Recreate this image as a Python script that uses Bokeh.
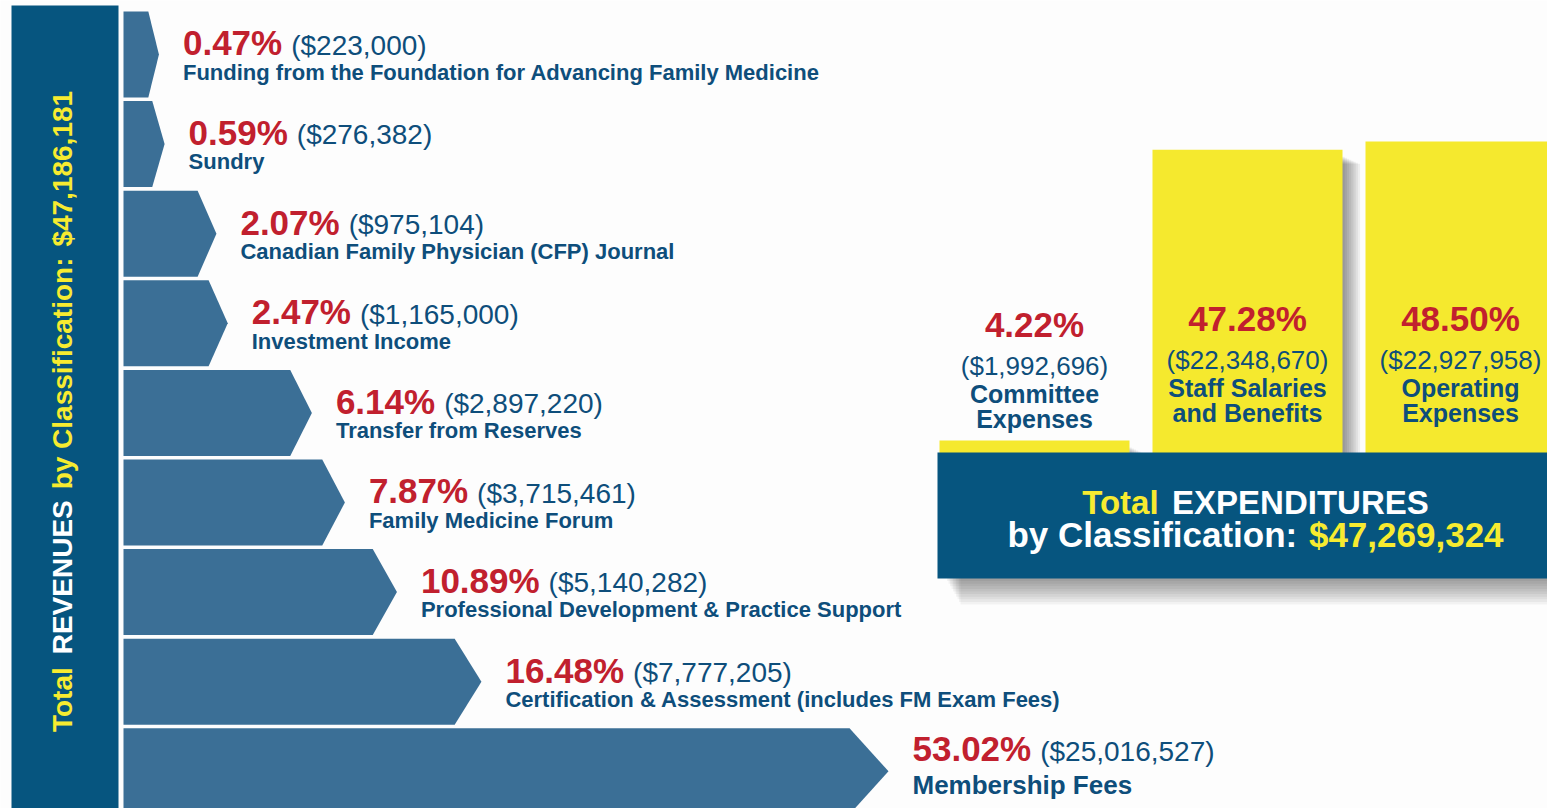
import numpy as np
from bokeh.plotting import figure
from bokeh.models import Range1d, ColumnDataSource
from bokeh.core.properties import value
from bokeh.embed import file_html
from bokeh.resources import INLINE

# ---------------- data ----------------
rev_labels = [
    "Funding from the Foundation for Advancing Family Medicine",
    "Sundry",
    "Canadian Family Physician (CFP) Journal",
    "Investment Income",
    "Transfer from Reserves",
    "Family Medicine Forum",
    "Professional Development & Practice Support",
    "Certification & Assessment (includes FM Exam Fees)",
    "Membership Fees",
]
rev_pct = [0.47, 0.59, 2.07, 2.47, 6.14, 7.87, 10.89, 16.48, 53.02]
rev_amount = [223000, 276382, 975104, 1165000, 2897220, 3715461, 5140282, 7777205, 25016527]
rev_total = 47186181

exp_line1 = ["Committee", "Staff Salaries", "Operating"]
exp_line2 = ["Expenses", "and Benefits", "Expenses"]
exp_pct = [4.22, 47.28, 48.50]
exp_amount = [1992696, 22348670, 22927958]
exp_total = 47269324

# ---------------- style ----------------
DARK = "#06557f"
ARROW = "#3b6f96"
RED = "#c1202e"
BLUE = "#0e4e7b"
YEL = "#f5e92e"
YEL_T = "#f7eb30"
BG = "#fdfdfd"
FONT = value("Liberation Sans")

# Liberation Sans Bold advance widths (1/1000 em)
AB = {" ": 278, "$": 556, "%": 889, "(": 333, ")": 333, ",": 278, ".": 278, ":": 333, "&": 722,
      "A": 722, "B": 722, "C": 722, "D": 722, "E": 667, "F": 611, "G": 778, "H": 722, "I": 278,
      "J": 556, "K": 722, "L": 611, "M": 833, "N": 722, "O": 778, "P": 667, "Q": 778, "R": 722,
      "S": 667, "T": 611, "U": 722, "V": 667, "W": 944, "X": 667, "Y": 667, "Z": 611,
      "a": 556, "b": 611, "c": 556, "d": 611, "e": 556, "f": 333, "g": 611, "h": 611, "i": 278,
      "j": 278, "k": 556, "l": 278, "m": 889, "n": 611, "o": 611, "p": 611, "q": 611, "r": 389,
      "s": 556, "t": 333, "u": 611, "v": 556, "w": 778, "x": 556, "y": 556, "z": 500}
for d in "0123456789":
    AB[d] = 556


def tw(s, size):
    return sum(AB.get(c, 556) for c in s) / 1000.0 * size


W, H = 1547, 808


def Y(sy):
    return H - sy


def BL(sy, size):
    """data y for a text whose baseline should sit at screen row sy."""
    return Y(sy - 0.33 * size)


p = figure(width=W, height=H, x_range=Range1d(0, W), y_range=Range1d(0, H),
           output_backend="svg", toolbar_location=None, min_border=0,
           x_axis_location=None, y_axis_location=None,
           background_fill_color=BG, border_fill_color=BG, outline_line_color=None)
p.grid.visible = False

# ---------------- revenues ----------------
p.quad(left=11, right=118, top=Y(5), bottom=Y(820), fill_color=DARK, line_color=None)

n = len(rev_pct)
POW = 0.65  # power scale for arrow length
tv = np.array(rev_pct) ** POW
X0, X1 = 123.0, 888.0
kx = (X1 - X0) / tv.max()
sx = -X0 / kx
p.extra_x_ranges = {"rev": Range1d(sx, sx + W / kx)}

ROW0, PITCH, RH = 11.0, 89.6, 86.0
xs, ys = [], []
mids = []
for i, t in enumerate(tv):
    top = ROW0 + i * PITCH
    bot = top + RH
    mid = top + RH / 2
    mids.append(mid)
    L = t * kx
    d = min(0.3 * L, 16 + 0.03 * L) / kx
    xs.append([0, t - d, t, t - d, 0])
    ys.append([Y(top), Y(top), Y(mid), Y(bot), Y(bot)])
p.patches(xs, ys, x_range_name="rev", fill_color=ARROW, line_color=None)

pct_txt = [f"{v:.2f}%" for v in rev_pct]
amt_txt = [f"(${a:,})" for a in rev_amount]
lsz = [22] * (n - 1) + [26]
src = ColumnDataSource(dict(
    x=list(tv),
    pct=pct_txt,
    amt=amt_txt,
    lab=rev_labels,
    py=[BL(m + (0 if i < n - 1 else -11), 35) for i, m in enumerate(mids)],
    ay=[BL(m + (0 if i < n - 1 else -11), 28) for i, m in enumerate(mids)],
    ly=[BL(m + (25 if i < n - 1 else 22), s) for i, (m, s) in enumerate(zip(mids, lsz))],
    lsize=[f"{s}px" for s in lsz],
    aoff=[24 + tw(s, 35) + 9 for s in pct_txt],
))
p.text(x="x", y="py", text="pct", source=src, x_range_name="rev", x_offset=24,
       text_font=FONT, text_font_style="bold", text_font_size="35px",
       text_color=RED, text_align="left", text_baseline="alphabetic")
p.text(x="x", y="ay", text="amt", source=src, x_range_name="rev", x_offset="aoff",
       text_font=FONT, text_font_style="normal", text_font_size="28px",
       text_color=BLUE, text_align="left", text_baseline="alphabetic")
p.text(x="x", y="ly", text="lab", source=src, x_range_name="rev", x_offset=24,
       text_font=FONT, text_font_style="bold", text_font_size="lsize",
       text_color=BLUE, text_align="left", text_baseline="alphabetic")

# vertical title (reads bottom to top)
VT = 28
GAP = tw(" ", VT) * 1.4
segs = [("Total", YEL_T), ("REVENUES", "#ffffff"), ("by Classification:", YEL_T), (f"${rev_total:,}", YEL_T)]
seg_w = [tw(s, VT) for s, _ in segs]
total_len = sum(seg_w) + GAP * (len(segs) - 1)
cur = Y(411) - total_len / 2
vx, vy, vtext, vcol = [], [], [], []
for (s, c), w in zip(segs, seg_w):
    vx.append(62); vy.append(cur); vtext.append(s); vcol.append(c)
    cur += w + GAP
p.text(x=vx, y=vy, text=vtext, text_color=vcol, angle=np.pi / 2,
       text_font=FONT, text_font_style="bold", text_font_size=f"{VT}px",
       text_align="left", text_baseline="middle")

# ---------------- expenditures ----------------
ecx = [1034 + 213 * i for i in range(len(exp_pct))]
BW = 190
BASE_SY, TOP_SY = 468.5, 141.0
ky = (BASE_SY - TOP_SY) / max(exp_pct)
base_y = Y(BASE_SY)
sy0 = -base_y / ky
p.extra_y_ranges = {"exp": Range1d(sy0, sy0 + H / ky)}

# bar shadows
for j in range(1, 9):
    p.vbar(x=[c + j * 2.2 for c in ecx], width=BW, top=[v - (6 + j) / ky for v in exp_pct], bottom=0,
           y_range_name="exp", fill_color="#000000", fill_alpha=0.06, line_color=None)
p.vbar(x=ecx, width=BW, top=exp_pct, bottom=0, y_range_name="exp", fill_color=YEL, line_color=None)

# box shadow + box
for j in range(1, 11):
    p.quad(left=937 + 8 + j * 1.5, right=1560, top=Y(470), bottom=Y(578 + 2.6 * j),
           fill_color="#000000", fill_alpha=0.045, line_color=None)
p.quad(left=937, right=1560, top=Y(452), bottom=Y(578), fill_color=DARK, line_color=None)

dy = [6, 0, 0]
p.text(x=ecx, y=[BL(330 + d, 35) for d in dy], text=[f"{v:.2f}%" for v in exp_pct],
       text_font=FONT, text_font_style="bold", text_font_size="35px",
       text_color=RED, text_align="center", text_baseline="alphabetic")
p.text(x=ecx, y=[BL(368 + d, 26) for d in dy], text=[f"(${a:,})" for a in exp_amount],
       text_font=FONT, text_font_style="normal", text_font_size="26px",
       text_color=BLUE, text_align="center", text_baseline="alphabetic")
p.text(x=ecx, y=[BL(396 + d, 25) for d in dy], text=exp_line1,
       text_font=FONT, text_font_style="bold", text_font_size="25px",
       text_color=BLUE, text_align="center", text_baseline="alphabetic")
p.text(x=ecx, y=[BL(421 + d, 25) for d in dy], text=exp_line2,
       text_font=FONT, text_font_style="bold", text_font_size="25px",
       text_color=BLUE, text_align="center", text_baseline="alphabetic")


def two_tone_line(first, second, size, cx, sy):
    sp = tw(" ", size) * 1.2
    w1 = tw(first[0], size)
    total = w1 + sp + tw(second[0], size)
    x0 = cx - total / 2
    p.text(x=[x0, x0 + w1 + sp], y=[BL(sy, size)] * 2, text=[first[0], second[0]],
           text_color=[first[1], second[1]], text_align="left",
           text_font=FONT, text_font_style="bold", text_font_size=f"{size}px",
           text_baseline="alphabetic")


two_tone_line(("Total", YEL_T), ("EXPENDITURES", "#ffffff"), 33, 1255, 513)
two_tone_line(("by Classification:", "#ffffff"), (f"${exp_total:,}", YEL_T), 35, 1255, 546)

open("out.html", "w").write(file_html(p, INLINE))
